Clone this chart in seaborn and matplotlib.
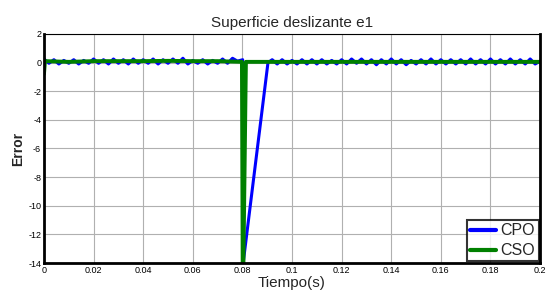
import numpy as np
import pandas as pd
import matplotlib
matplotlib.use("Agg")
import matplotlib.pyplot as plt
import seaborn as sns

# CPO: chattering around 0, fault at t=0.08, linear recovery until ~0.09
cpo_t_pre = [0.000, 0.002, 0.004, 0.006, 0.008, 0.010, 0.012, 0.014, 0.016, 0.018,
             0.020, 0.022, 0.024, 0.026, 0.028, 0.030, 0.032, 0.034, 0.036, 0.038,
             0.040, 0.042, 0.044, 0.046, 0.048, 0.050, 0.052, 0.054, 0.056, 0.058,
             0.060, 0.062, 0.064, 0.066, 0.068, 0.070, 0.072, 0.074, 0.076, 0.078]
cpo_v_pre = [0.25, -0.05, 0.2, -0.1, 0.15, -0.05, 0.2, -0.1, 0.15, -0.05,
             0.25, -0.05, 0.2, -0.1, 0.25, -0.05, 0.2, -0.1, 0.25, -0.05,
             0.2, -0.05, 0.25, -0.1, 0.2, -0.05, 0.25, -0.05, 0.3, -0.1,
             0.15, -0.05, 0.2, -0.1, 0.15, -0.05, 0.25, -0.05, 0.3, 0.1]
cpo_t_fault = [0.0801, 0.0803, 0.0903]
cpo_v_fault = [0.2, -14.0, 0.0]
cpo_t_post = [0.092, 0.094, 0.096, 0.098, 0.100, 0.102, 0.104, 0.106, 0.108, 0.110,
              0.112, 0.114, 0.116, 0.118, 0.120, 0.122, 0.124, 0.126, 0.128, 0.130,
              0.132, 0.134, 0.136, 0.138, 0.140, 0.142, 0.144, 0.146, 0.148, 0.150,
              0.152, 0.154, 0.156, 0.158, 0.160, 0.162, 0.164, 0.166, 0.168, 0.170,
              0.172, 0.174, 0.176, 0.178, 0.180, 0.182, 0.184, 0.186, 0.188, 0.190,
              0.192, 0.194, 0.196, 0.198, 0.200]
cpo_v_post = [0.2, -0.1, 0.2, -0.1, 0.15, -0.1, 0.2, -0.1, 0.2, -0.1,
              0.2, -0.1, 0.15, -0.1, 0.2, -0.1, 0.25, -0.05, 0.25, -0.1,
              0.2, -0.15, 0.2, -0.1, 0.25, -0.1, 0.2, -0.15, 0.15, -0.1,
              0.2, -0.1, 0.25, -0.1, 0.2, -0.1, 0.2, -0.1, 0.2, -0.1,
              0.25, -0.1, 0.2, -0.1, 0.25, -0.1, 0.2, -0.1, 0.25, -0.1,
              0.2, -0.1, 0.25, -0.1, 0.1]

# CSO: initial dip, near 0, sharp spike at t=0.08 and immediate recovery
cso_t = [0.0000, 0.0004, 0.0100, 0.0200, 0.0300, 0.0400, 0.0500, 0.0600, 0.0700,
         0.0798, 0.0801, 0.0804, 0.0814, 0.0900, 0.1000, 0.1200, 0.1400, 0.1600,
         0.1800, 0.2000]
cso_v = [-0.8, 0.1, 0.05, 0.1, 0.1, 0.1, 0.12, 0.1, 0.1,
         0.05, -14.0, -14.0, 0.05, 0.05, 0.05, 0.05, 0.05, 0.05,
         0.05, 0.05]

cpo = pd.DataFrame({"t": cpo_t_pre + cpo_t_fault + cpo_t_post,
                    "e": cpo_v_pre + cpo_v_fault + cpo_v_post})
cso = pd.DataFrame({"t": cso_t, "e": cso_v})

sns.set_style("white")
plt.rcParams["font.family"] = ["Liberation Sans", "DejaVu Sans"]
plt.rcParams["axes.unicode_minus"] = False

fig = plt.figure(figsize=(5.47, 3.03), dpi=100)
ax = fig.add_axes([0.0804, 0.132, 0.907, 0.756])

sns.lineplot(data=cpo, x="t", y="e", ax=ax, color="#0000ff", lw=2.2,
             sort=False, estimator=None, label="CPO")
sns.lineplot(data=cso, x="t", y="e", ax=ax, color="#008000", lw=2.8,
             sort=False, estimator=None, label="CSO")

ax.set_xlim(0, 0.2)
ax.set_ylim(-14, 2)
ax.set_xticks([0, 0.02, 0.04, 0.06, 0.08, 0.1, 0.12, 0.14, 0.16, 0.18, 0.2])
ax.set_xticklabels(["0", "0.02", "0.04", "0.06", "0.08", "0.1", "0.12", "0.14",
                    "0.16", "0.18", "0.2"])
ax.set_yticks(range(-14, 3, 2))
ax.tick_params(direction="in", length=3, labelsize=6.5, colors="black", pad=2)
ax.grid(True, color="#b0b0b0", lw=0.8)

for side in ["left", "bottom", "right"]:
    ax.spines[side].set_color("black")
    ax.spines[side].set_linewidth(2)
ax.spines["top"].set_color("black")
ax.spines["top"].set_linewidth(0.8)

ax.set_title("Superficie deslizante e1", fontsize=11, pad=5)
ax.set_xlabel("Tiempo(s)", fontsize=11, labelpad=1)
ax.set_ylabel("Error", fontsize=10, fontweight="bold", labelpad=2)

leg = ax.legend(loc="lower right", fontsize=11.5, frameon=True, fancybox=False,
                borderpad=0.2, handlelength=1.6, handletextpad=0.3,
                labelspacing=0.3, borderaxespad=0.1)
leg.get_frame().set_edgecolor("black")
leg.get_frame().set_linewidth(1.5)
for h in leg.get_lines():
    h.set_linewidth(3)

fig.savefig("out.png", dpi=100)
